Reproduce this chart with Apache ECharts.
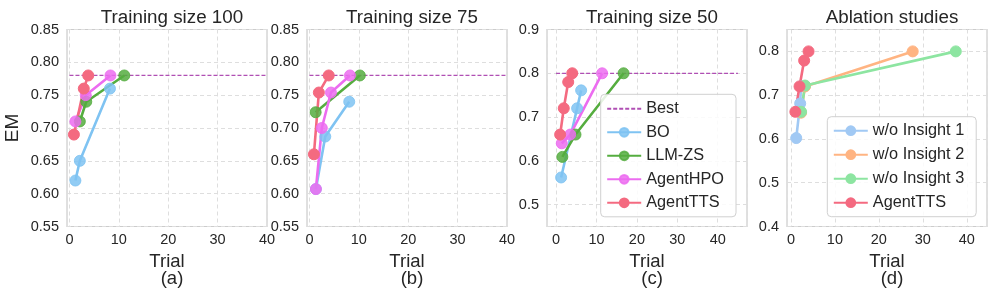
<!DOCTYPE html>
<html>
<head>
<meta charset="utf-8">
<script src="https://cdn.jsdelivr.net/npm/echarts@6/dist/echarts.min.js"></script>
<style>html,body{margin:0;padding:0;background:#fff;}#c{width:996px;height:299px;}</style>
</head>
<body>
<div id="c"></div>
<script>
// ---- data ----
const panelTitles = ['Training size 100', 'Training size 75', 'Training size 50', 'Ablation studies'];
const panelLetters = ['(a)', '(b)', '(c)', '(d)'];
const xTickLabels = ['0', '10', '20', '30', '40'];
const yTickLabelsAB = ['0.55', '0.60', '0.65', '0.70', '0.75', '0.80', '0.85'];
const yTickLabelsC = ['0.5', '0.6', '0.7', '0.8', '0.9'];
const yTickLabelsD = ['0.4', '0.5', '0.6', '0.7', '0.8'];

const bestValues = [0.78, 0.78, 0.80];
const bestSpans = [[0, 40], [0, 40], [0, 45]];

const boA  = [[1.2, 0.62], [2.1, 0.65], [8.2, 0.76]];
const llmA = [[2.1, 0.71], [3.4, 0.74], [11.1, 0.78]];
const hpoA = [[1.2, 0.71], [3.3, 0.75], [8.3, 0.78]];
const ttsA = [[0.9, 0.69], [2.9, 0.76], [3.8, 0.78]];

const boB  = [[1.3, 0.607], [3.2, 0.687], [8.05, 0.74]];
const llmB = [[1.25, 0.724], [10.2, 0.78]];
const hpoB = [[1.3, 0.607], [2.5, 0.70], [4.35, 0.754], [8.2, 0.78]];
const ttsB = [[0.9, 0.66], [1.9, 0.754], [3.9, 0.78]];

const boC  = [[1.24, 0.562], [5.2, 0.72], [6.2, 0.761]];
const llmC = [[1.55, 0.609], [4.8, 0.66], [16.7, 0.80]];
const hpoC = [[1.4, 0.64], [3.5, 0.66], [11.4, 0.80]];
const ttsC = [[1.0, 0.66], [1.9, 0.72], [3.0, 0.78], [4.0, 0.80]];

const ins1D = [[1.2, 0.602], [2.1, 0.681], [2.3, 0.72]];
const ins2D = [[2.3, 0.66], [3.2, 0.72], [27.7, 0.80]];
const ins3D = [[2.3, 0.662], [3.2, 0.722], [37.5, 0.80]];
const ttsD  = [[1.0, 0.662], [1.95, 0.72], [3.0, 0.779], [4.0, 0.80]];

// ---- layout / style ----
const FONT = 'Liberation Sans';
const TXT = '#262626';
const gridLefts = [67, 307, 547, 787];
const GW = 200, GT = 29.5, GH = 197;
const xRanges = [[-0.5, 40], [-0.5, 40], [-2.25, 47.25], [-0.9, 44.6]];
const yRanges = [[0.55, 0.85], [0.55, 0.85], [0.45, 0.9], [0.4, 0.85]];
const yStep = [0.05, 0.05, 0.1, 0.1];
const yLabelSets = [yTickLabelsAB, yTickLabelsAB, yTickLabelsC, yTickLabelsD];

const C = {
  best: '#b04fb4', bo: '#7fc3f2', llm: '#55ad3f', hpo: '#ec6cf0', tts: '#f46a80',
  i1: '#a1c9f4', i2: '#ffb482', i3: '#8de5a1'
};

function near(v, labels) {
  for (const l of labels) if (Math.abs(parseFloat(l) - v) < 1e-6) return l;
  return '';
}

const grids = [], xAxes = [], yAxes = [], titles = [], series = [];
for (let i = 0; i < 4; i++) {
  grids.push({left: gridLefts[i], top: GT, width: GW, height: GH, show: true,
    borderColor: '#cccccc', borderWidth: 1.2, backgroundColor: 'transparent', containLabel: false});
  xAxes.push({type: 'value', gridIndex: i, min: xRanges[i][0], max: xRanges[i][1],
    minInterval: 10, maxInterval: 10,
    axisLine: {show: false}, axisTick: {show: false},
    splitLine: {show: true, lineStyle: {color: '#dedede', type: [4, 3], width: 1}},
    axisLabel: {color: TXT, fontFamily: FONT, fontSize: 14.5, margin: 6,
      formatter: v => near(v, xTickLabels)},
    name: 'Trial', nameLocation: 'middle', nameGap: 17,
    nameTextStyle: {color: TXT, fontFamily: FONT, fontSize: 18.5}});
  const labs = yLabelSets[i];
  yAxes.push({type: 'value', gridIndex: i, min: yRanges[i][0], max: yRanges[i][1],
    minInterval: yStep[i], maxInterval: yStep[i],
    axisLine: {show: false}, axisTick: {show: false},
    splitLine: {show: true, lineStyle: {color: '#dedede', type: [4, 3], width: 1}},
    axisLabel: {color: TXT, fontFamily: FONT, fontSize: 14.5, margin: 8,
      formatter: v => near(v, labs)},
    name: i === 0 ? 'EM' : '', nameLocation: 'middle', nameRotate: 90, nameGap: 45,
    nameTextStyle: {color: TXT, fontFamily: FONT, fontSize: 19}});
  titles.push({text: panelTitles[i], left: gridLefts[i] + GW / 2, top: 3, textAlign: 'center',
    textStyle: {color: TXT, fontFamily: FONT, fontSize: 18.8, fontWeight: 'normal'}});
  titles.push({text: panelLetters[i], left: gridLefts[i] + GW / 2, top: 264, textAlign: 'center',
    textStyle: {color: TXT, fontFamily: FONT, fontSize: 18.5, fontWeight: 'normal'}});
}

function bestSeries(i) {
  return {name: 'Best', type: 'line', xAxisIndex: i, yAxisIndex: i, symbol: 'none', silent: true,
    data: [[bestSpans[i][0], bestValues[i]], [bestSpans[i][1], bestValues[i]]],
    lineStyle: {color: C.best, width: 1.3, type: [4, 2]}, itemStyle: {color: C.best}, z: 1};
}
function lineSeries(name, data, color, i, opacity) {
  return {name, type: 'line', xAxisIndex: i, yAxisIndex: i, data,
    symbol: 'circle', symbolSize: 11, showSymbol: true,
    lineStyle: {color, width: 2.6},
    itemStyle: {color, opacity: opacity, borderColor: color, borderWidth: 1},
    emphasis: {disabled: true}, z: 2};
}

const panelSets = [[boA, llmA, hpoA, ttsA], [boB, llmB, hpoB, ttsB], [boC, llmC, hpoC, ttsC]];
for (let i = 0; i < 3; i++) {
  series.push(bestSeries(i));
  const [bo, llm, hpo, tts] = panelSets[i];
  series.push(lineSeries('BO', bo, C.bo, i, 0.85));
  series.push(lineSeries('LLM-ZS', llm, C.llm, i, 0.85));
  series.push(lineSeries('AgentHPO', hpo, C.hpo, i, 0.85));
  series.push(lineSeries('AgentTTS', tts, C.tts, i, 1));
}
series.push(lineSeries('w/o Insight 1', ins1D, C.i1, 3, 1));
series.push(lineSeries('w/o Insight 2', ins2D, C.i2, 3, 1));
series.push(lineSeries('w/o Insight 3', ins3D, C.i3, 3, 1));
series.push(lineSeries('AgentTTS', ttsD, C.tts, 3, 1));

const legendCommon = {orient: 'vertical', itemWidth: 34, itemHeight: 11, itemGap: 7.3,
  backgroundColor: 'rgba(255,255,255,0.85)', borderColor: '#d0d0d0', borderWidth: 1, borderRadius: 4,
  textStyle: {color: TXT, fontFamily: FONT, fontSize: 16.3, lineHeight: 16},
  selectedMode: false};

const option = {
  animation: false,
  backgroundColor: '#ffffff',
  title: titles,
  grid: grids,
  xAxis: xAxes,
  yAxis: yAxes,
  legend: [
    Object.assign({}, legendCommon, {left: 600.7, top: 94.3, padding: [6.5, 12, 6, 5.5], itemGap: 7.5,
      data: [{name: 'Best', itemStyle: {opacity: 0}}, 'BO', 'LLM-ZS', 'AgentHPO', 'AgentTTS']}),
    Object.assign({}, legendCommon, {left: 827.3, top: 116.7, padding: [6, 12, 6, 5.5], itemGap: 8,
      data: ['w/o Insight 1', 'w/o Insight 2', 'w/o Insight 3', 'AgentTTS']})
  ],
  series: series
};
const chart = echarts.init(document.getElementById('c'), null, {renderer: 'canvas'});
chart.setOption(option);
</script>
</body>
</html>
